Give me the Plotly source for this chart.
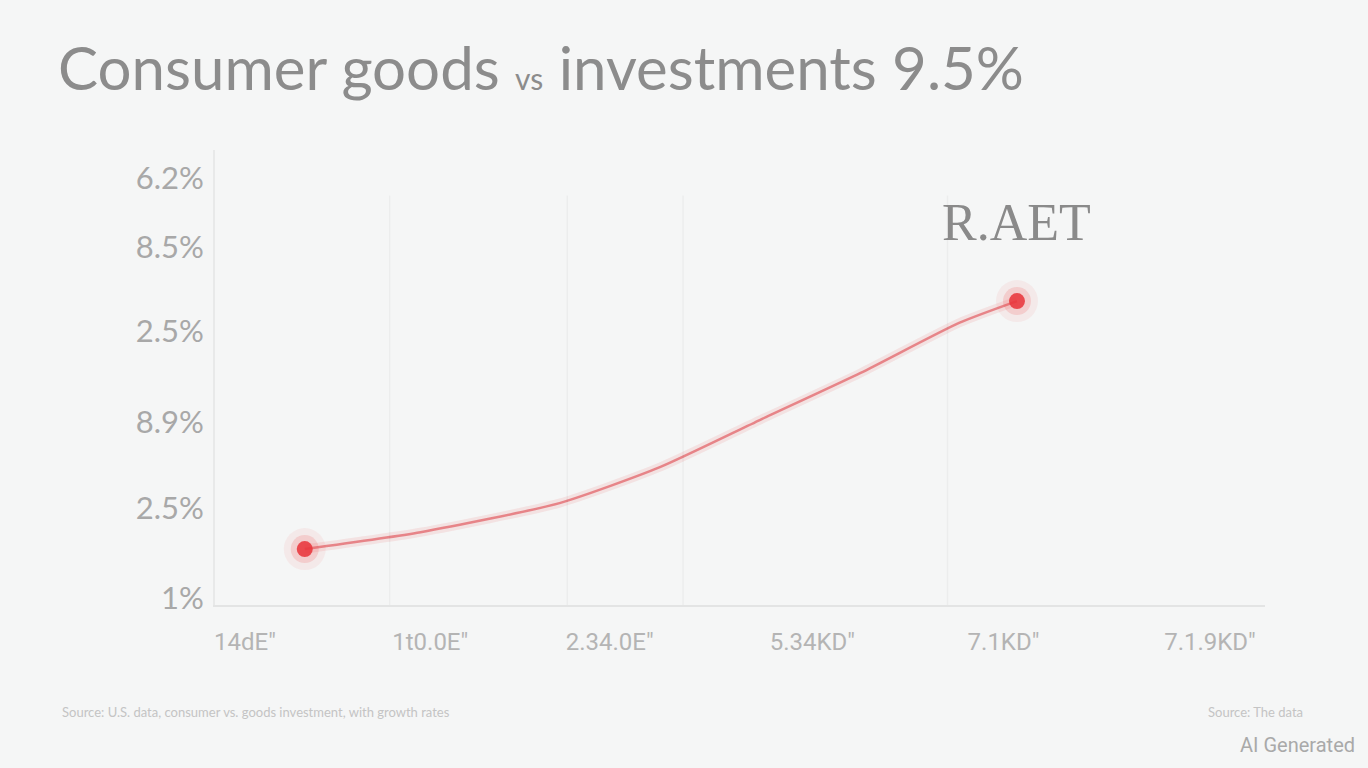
import plotly.graph_objects as go

# ---- data ----
x_tick_vals = [0.0, 0.96, 1.89, 2.94, 3.93, 5.0]
x_tick_text = ["14dE″", "1t0.0E″", "2.34.0E″", "5.34KD″", "7.1KD″", "7.1.9KD″"]
y_tick_vals = [1.5, 21.3, 40.2, 60.2, 78.7, 93.8]
y_tick_text = ["1%", "2.5%", "8.9%", "2.5%", "8.5%", "6.2%"]

curve_x = [0.31, 0.91, 1.63, 2.15, 2.67, 3.19, 3.70, 4.0]
curve_y = [12.3, 16.0, 22.4, 30.3, 40.7, 51.0, 62.0, 66.8]
marker_x = [0.31, 4.0]
marker_y = [12.3, 66.8]
grid_x = [0.75, 1.67, 2.27, 3.64]

title_text = ("Consumer goods <span style='font-size:30px'>vs</span> "
              "investments 9.5%")
point_label = "R.AET"
footnote_left = ("Source: U.S. data, consumer vs. goods investment, "
                 "with growth rates")
footnote_right = "Source: The data"
watermark = "AI Generated"

W, H = 1368, 768
L, R, T, B = 215, 103, 150, 163
pw, ph = W - L - R, H - T - B


def px(xp):
    return (xp - L) / pw


def py(yp):
    return (H - B - yp) / ph


fig = go.Figure()

fig.add_trace(go.Scatter(x=curve_x, y=curve_y, mode="lines",
                         line=dict(color="rgba(235,90,90,0.13)", width=9,
                                   shape="spline", smoothing=0.6),
                         hoverinfo="skip", showlegend=False))
fig.add_trace(go.Scatter(x=curve_x, y=curve_y, mode="lines",
                         line=dict(color="rgba(228,115,120,0.85)", width=2.5,
                                   shape="spline", smoothing=0.6),
                         showlegend=False))
fig.add_trace(go.Scatter(x=marker_x, y=marker_y, mode="markers",
                         marker=dict(size=42, color="rgba(240,90,90,0.08)"),
                         hoverinfo="skip", showlegend=False))
fig.add_trace(go.Scatter(x=marker_x, y=marker_y, mode="markers",
                         marker=dict(size=28, color="rgba(240,80,80,0.18)"),
                         hoverinfo="skip", showlegend=False))
fig.add_trace(go.Scatter(x=marker_x, y=marker_y, mode="markers",
                         marker=dict(size=16, color="rgba(232,55,60,0.88)"),
                         showlegend=False))

shapes = [dict(type="line", xref="x", yref="paper", x0=gx, x1=gx,
               y0=0, y1=0.9, line=dict(color="rgba(0,0,0,0.035)", width=1.5))
          for gx in grid_x]

fig.update_layout(
    width=W, height=H,
    paper_bgcolor="#f5f6f6", plot_bgcolor="#f5f6f6",
    margin=dict(l=L, r=R, t=T, b=B),
    shapes=shapes,
    title=dict(text=title_text, x=58 / W, xanchor="left", y=0.91,
               yanchor="middle",
               font=dict(family="Lato", size=60, color="#8c8c8c")),
    xaxis=dict(range=[-0.155, 5.285], tickmode="array",
               tickvals=x_tick_vals, ticktext=x_tick_text,
               showgrid=False, zeroline=False, showline=True,
               linecolor="rgba(0,0,0,0.07)", linewidth=2,
               ticks="", ticklabelstandoff=14,
               tickfont=dict(family="Liberation Sans Narrow, Roboto",
                             size=24, color="#b4b4b4")),
    yaxis=dict(range=[0, 100], tickmode="array",
               tickvals=y_tick_vals, ticktext=y_tick_text,
               showgrid=False, zeroline=False, showline=True,
               linecolor="rgba(0,0,0,0.05)", linewidth=2,
               ticks="", ticklabelstandoff=3,
               tickfont=dict(family="Lato", size=31, color="#a8a8a8")),
    annotations=[
        dict(x=4.0, y=84, xref="x", yref="y", text=point_label,
             showarrow=False,
             font=dict(family="Liberation Serif", size=52, color="#8a8a8a")),
        dict(xref="paper", yref="paper", x=px(60), y=py(712),
             xanchor="left", yanchor="middle", text=footnote_left,
             showarrow=False,
             font=dict(family="Lato", size=13, color="#c4c4c4")),
        dict(xref="paper", yref="paper", x=px(1305), y=py(712),
             xanchor="right", yanchor="middle", text=footnote_right,
             showarrow=False,
             font=dict(family="Lato", size=13, color="#c4c4c4")),
        dict(xref="paper", yref="paper", x=px(1357), y=py(745),
             xanchor="right", yanchor="middle", text=watermark,
             showarrow=False,
             font=dict(family="Roboto", size=20, color="#a9a9a9")),
    ],
)

fig.write_html(
    "out.html",
    config={"displayModeBar": False},
    post_script="document.body.style.margin='0';"
                "document.body.style.background='#f5f6f6';",
)
